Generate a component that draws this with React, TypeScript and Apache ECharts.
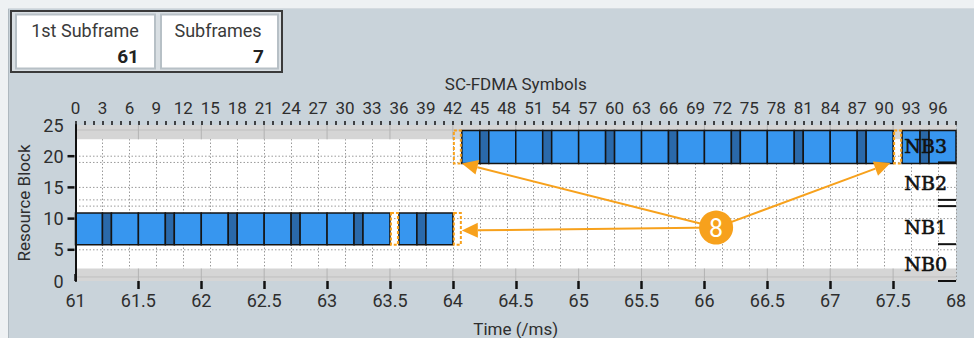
import React, { useEffect, useRef } from "react";
import * as echarts from "echarts";

// ---- data ----
const TIME_MIN = 61;
const TIME_MAX = 68;
const TIME_TICKS = [61.5, 62, 62.5, 63, 63.5, 64, 64.5, 65, 65.5, 66, 66.5, 67, 67.5];
const SYMBOL_MIN = 0;
const SYMBOL_MAX = 98;
const RB_MIN = 0;
const RB_MAX = 25;
const RB_TICKS = [5, 10, 15, 20];
const RB_GRID_LINES = [5, 10, 12, 13, 15, 19, 20];
const BANDS = [
  [0, 2],
  [22.7, 25],
];
const BAND_LINES = [0.65, 24.2];
const NB_NAMES = ["NB0", "NB1", "NB2", "NB3"];
const NB_LABEL_RB = [2.75, 8.6, 15.75, 21.7];
const NB_BOUNDARIES = [0, 5.9, 12, 13, 19];
const SLOT_BOUNDARIES = [7, 14, 21, 28, 35, 42, 49, 56, 63, 70, 77, 84, 91];
const DMRS_SYMBOLS = [3, 10, 17, 24, 31, 38, 45, 52, 59, 66, 73, 80, 87, 94];
const NB1_RB = [5.8, 10.9];
const NB1_SPANS = [
  [0, 35],
  [36, 42],
];
const NB1_SKIPPED = [
  [35, 36],
  [42, 43],
];
const NB3_RB = [18.85, 24.1];
const NB3_SPANS = [
  [43, 91],
  [92, 98],
];
const NB3_SKIPPED = [
  [42, 43],
  [91, 92],
];
const CALLOUT = [71.3, 8.56];
const CALLOUT_TEXT = "8";
const ARROW_TIPS = [
  [43, 8.1],
  [43, 18.85],
  [90.7, 18.9],
];
const INFO_TITLES = ["1st Subframe", "Subframes"];
const INFO_VALUES = ["61", "7"];

// ---- styles ----
const BG = "#c9d3da";
const LIGHT_BLUE = "#3796ef";
const DARK_BLUE = "#2a69aa";
const ORANGE = "#f7a11c";
const FONT = "Roboto";
const TEXT = "#2e2e2e";

function buildSegments(spans: number[][], rb: number[]) {
  const out: number[][] = [];
  spans.forEach(([s, e]) => {
    const cuts = new Set<number>([s, e]);
    SLOT_BOUNDARIES.forEach((b) => {
      if (b > s && b < e) cuts.add(b);
    });
    DMRS_SYMBOLS.forEach((d) => {
      if (d >= s && d < e) {
        cuts.add(d);
        cuts.add(Math.min(d + 1, e));
      }
    });
    const sorted = Array.from(cuts).sort((a, b) => a - b);
    for (let i = 0; i < sorted.length - 1; i++) {
      const a = sorted[i];
      const b = sorted[i + 1];
      out.push([a, b, rb[0], rb[1], DMRS_SYMBOLS.includes(a) ? 1 : 0]);
    }
  });
  return out;
}

export default function App() {
  const ref = useRef<HTMLDivElement>(null);
  useEffect(() => {
    document.body.style.margin = "0";
    if (!ref.current) return;
    const chart = echarts.init(ref.current, undefined, { renderer: "svg" });

    const segments = [...buildSegments(NB1_SPANS, NB1_RB), ...buildSegments(NB3_SPANS, NB3_RB)];
    const skipped = [
      ...NB1_SKIPPED.map((g) => [g[0], g[1], NB1_RB[0], NB1_RB[1]]),
      ...NB3_SKIPPED.map((g) => [g[0], g[1], NB3_RB[0], NB3_RB[1]]),
    ];
    const arrows = ARROW_TIPS.map((t) => [CALLOUT[0], CALLOUT[1], t[0], t[1]]);

    const labelStyle = { fontFamily: FONT, fontSize: 18, color: TEXT };

    const option: any = {
      animation: false,
      backgroundColor: BG,
      textStyle: { fontFamily: FONT },
      graphic: [
        { type: "rect", shape: { x: 0, y: 0, width: 974, height: 8 }, style: { fill: "#eef1f3" } },
        { type: "rect", shape: { x: 0, y: 0, width: 8, height: 338 }, style: { fill: "#eef1f3" } },
        { type: "line", shape: { x1: 8.5, y1: 8, x2: 8.5, y2: 338 }, style: { stroke: "#aeb8bf", lineWidth: 1 } },
        { type: "line", shape: { x1: 8, y1: 8.5, x2: 974, y2: 8.5 }, style: { stroke: "#d5dbe0", lineWidth: 1 } },
        { type: "rect", shape: { x: 11, y: 11, width: 271, height: 61 }, style: { fill: "#d9dfe3", stroke: "#3a3a3a", lineWidth: 2 } },
        { type: "rect", shape: { x: 16, y: 14.5, width: 139, height: 54 }, style: { fill: "#fff", stroke: "#b7c0c6", lineWidth: 2 } },
        { type: "rect", shape: { x: 161, y: 14.5, width: 117, height: 54 }, style: { fill: "#fff", stroke: "#b7c0c6", lineWidth: 2 } },
        { type: "text", x: 85, y: 30, style: { text: INFO_TITLES[0], fontFamily: FONT, fontSize: 18, fill: "#3a3a3a", align: "center", verticalAlign: "middle" } },
        { type: "text", x: 139, y: 56, style: { text: INFO_VALUES[0], fontFamily: FONT, fontSize: 19, fontWeight: "bold", fill: "#222", align: "right", verticalAlign: "middle" } },
        { type: "text", x: 218, y: 30, style: { text: INFO_TITLES[1], fontFamily: FONT, fontSize: 18, fill: "#3a3a3a", align: "center", verticalAlign: "middle" } },
        { type: "text", x: 264, y: 56, style: { text: INFO_VALUES[1], fontFamily: FONT, fontSize: 19, fontWeight: "bold", fill: "#222", align: "right", verticalAlign: "middle" } },
      ],
      grid: {
        left: 75.5,
        right: 18,
        top: 125,
        bottom: 48,
        show: true,
        backgroundColor: "#ffffff",
        borderWidth: 0,
      },
      xAxis: [
        {
          type: "value",
          position: "bottom",
          min: TIME_MIN,
          max: TIME_MAX,
          interval: 0.5,
          name: "Time (/ms)",
          nameLocation: "middle",
          nameGap: 39,
          nameTextStyle: { fontFamily: FONT, fontSize: 17, color: TEXT },
          axisLine: { show: false },
          axisTick: { show: true, customValues: TIME_TICKS, length: 8, lineStyle: { color: "#111", width: 2.5 } },
          axisLabel: { ...labelStyle, margin: 10 },
          splitLine: { show: false },
        },
        {
          type: "value",
          position: "top",
          min: SYMBOL_MIN,
          max: SYMBOL_MAX,
          interval: 3,
          name: "SC-FDMA Symbols",
          nameLocation: "middle",
          nameGap: 33,
          nameTextStyle: { fontFamily: FONT, fontSize: 17, color: TEXT },
          axisLine: { show: false },
          axisTick: { show: true, length: 7, lineStyle: { color: "#111", width: 2.5 } },
          axisLabel: { ...labelStyle, fontSize: 17, margin: 9, showMaxLabel: false },
          splitLine: { show: true, lineStyle: { color: "#9a9a9a", type: [1.5, 2], width: 1 } },
        },
        {
          type: "value",
          position: "top",
          min: SYMBOL_MIN,
          max: SYMBOL_MAX,
          interval: 1,
          axisLine: { show: false },
          axisTick: { show: true, length: 4, lineStyle: { color: "#111", width: 1.5 } },
          axisLabel: { show: false },
          splitLine: { show: false },
        },
      ],
      yAxis: [
        {
          type: "value",
          position: "left",
          min: RB_MIN,
          max: RB_MAX,
          interval: 5,
          name: "Resource Block",
          nameLocation: "middle",
          nameGap: 36,
          nameRotate: 90,
          nameTextStyle: { fontFamily: FONT, fontSize: 17, color: TEXT },
          axisLine: { show: true, lineStyle: { color: "#222", type: [1, 1], width: 1 } },
          axisTick: { show: false },
          axisLabel: { ...labelStyle, margin: 12 },
          splitLine: { show: false },
        },
        {
          type: "value",
          position: "right",
          min: RB_MIN,
          max: RB_MAX,
          z: 10,
          axisLine: { show: true, lineStyle: { color: "#111", width: 2 } },
          axisTick: { show: false },
          axisLabel: {
            inside: true,
            customValues: NB_LABEL_RB,
            formatter: (v: number) => {
              const i = NB_LABEL_RB.indexOf(v);
              return i >= 0 ? NB_NAMES[i] : "";
            },
            fontFamily: "DejaVu Serif",
            fontSize: 19,
            color: "#111",
            textBorderColor: "#111",
            textBorderWidth: 0.6,
            margin: 9,
          },
          splitLine: { show: false },
        },
      ],
      series: [
        {
          type: "custom",
          name: "grid",
          xAxisIndex: 1,
          yAxisIndex: 0,
          z: 1,
          silent: true,
          data: RB_GRID_LINES.map((v) => [0, v]),
          renderItem: (params: any, api: any) => {
            const y = api.coord([0, api.value(1)])[1];
            const cs = params.coordSys;
            return {
              type: "line",
              shape: { x1: cs.x, y1: y, x2: cs.x + cs.width, y2: y },
              style: { stroke: "#9a9a9a", lineWidth: 1, lineDash: [1.5, 2] },
            };
          },
        },
        {
          type: "custom",
          name: "rbTicks",
          xAxisIndex: 1,
          yAxisIndex: 0,
          z: 1,
          silent: true,
          data: RB_TICKS.map((v) => [0, v]),
          renderItem: (params: any, api: any) => {
            const y = api.coord([0, api.value(1)])[1];
            const cs = params.coordSys;
            return {
              type: "line",
              shape: { x1: cs.x - 8, y1: y, x2: cs.x - 1, y2: y },
              style: { stroke: "#111", lineWidth: 2.5 },
            };
          },
        },
        {
          type: "custom",
          name: "bands",
          xAxisIndex: 0,
          yAxisIndex: 0,
          z: 2,
          silent: true,
          data: BANDS.map((b, i) => [b[0], b[1], BAND_LINES[i]]),
          renderItem: (params: any, api: any) => {
            const y0 = api.value(0);
            const y1 = api.value(1);
            const tl = api.coord([TIME_MIN, y1]);
            const br = api.coord([TIME_MAX, y0]);
            const ly = api.coord([TIME_MIN, api.value(2)])[1];
            const children: any[] = [
              { type: "rect", shape: { x: tl[0], y: tl[1], width: br[0] - tl[0], height: br[1] - tl[1] }, style: { fill: "#d5d5d5" } },
              { type: "line", shape: { x1: tl[0], y1: ly, x2: br[0], y2: ly }, style: { stroke: "#bfbfbf", lineWidth: 1 } },
            ];
            TIME_TICKS.forEach((t) => {
              const x = api.coord([t, y0])[0];
              children.push({ type: "line", shape: { x1: x, y1: tl[1], x2: x, y2: br[1] }, style: { stroke: "#b3b3b3", lineWidth: 1 } });
            });
            return { type: "group", children };
          },
        },
        {
          type: "custom",
          name: "allocations",
          xAxisIndex: 1,
          yAxisIndex: 0,
          z: 3,
          data: segments,
          renderItem: (params: any, api: any) => {
            const p0 = api.coord([api.value(0), api.value(3)]);
            const p1 = api.coord([api.value(1), api.value(2)]);
            return {
              type: "rect",
              shape: { x: p0[0], y: p0[1], width: p1[0] - p0[0], height: p1[1] - p0[1] },
              style: { fill: api.value(4) ? DARK_BLUE : LIGHT_BLUE, stroke: "#141414", lineWidth: 1.5 },
            };
          },
        },
        {
          type: "custom",
          name: "skipped",
          xAxisIndex: 1,
          yAxisIndex: 0,
          z: 4,
          data: skipped,
          renderItem: (params: any, api: any) => {
            const p0 = api.coord([api.value(0), api.value(3)]);
            const p1 = api.coord([api.value(1), api.value(2)]);
            return {
              type: "rect",
              shape: { x: p0[0] + 1, y: p0[1], width: p1[0] - p0[0] - 2, height: p1[1] - p0[1] },
              style: { fill: "transparent", stroke: ORANGE, lineWidth: 2, lineDash: [3, 2] },
            };
          },
        },
        {
          type: "custom",
          name: "nbBoundaries",
          xAxisIndex: 1,
          yAxisIndex: 0,
          z: 7,
          silent: true,
          data: NB_BOUNDARIES.map((v) => [0, v]),
          renderItem: (params: any, api: any) => {
            const y = api.coord([0, api.value(1)])[1];
            const cs = params.coordSys;
            return {
              type: "line",
              shape: { x1: cs.x + cs.width - 18, y1: y, x2: cs.x + cs.width, y2: y },
              style: { stroke: "#111", lineWidth: 2 },
            };
          },
        },
        {
          type: "custom",
          name: "arrows",
          xAxisIndex: 1,
          yAxisIndex: 0,
          z: 5,
          data: arrows,
          renderItem: (params: any, api: any) => {
            const a = api.coord([api.value(0), api.value(1)]);
            const b = api.coord([api.value(2), api.value(3)]);
            const dx = b[0] - a[0];
            const dy = b[1] - a[1];
            const len = Math.hypot(dx, dy);
            const ux = dx / len;
            const uy = dy / len;
            const L = 16;
            const W = 7.5;
            const bx = b[0] - ux * L;
            const by = b[1] - uy * L;
            return {
              type: "group",
              children: [
                { type: "line", shape: { x1: a[0], y1: a[1], x2: bx, y2: by }, style: { stroke: ORANGE, lineWidth: 2 } },
                {
                  type: "polygon",
                  shape: { points: [[b[0], b[1]], [bx - uy * W, by + ux * W], [bx + uy * W, by - ux * W]] },
                  style: { fill: ORANGE },
                },
              ],
            };
          },
        },
        {
          type: "custom",
          name: "callout",
          xAxisIndex: 1,
          yAxisIndex: 0,
          z: 6,
          data: [CALLOUT],
          renderItem: (params: any, api: any) => {
            const c = api.coord([api.value(0), api.value(1)]);
            return {
              type: "group",
              children: [
                { type: "circle", shape: { cx: c[0], cy: c[1], r: 17 }, style: { fill: ORANGE } },
                {
                  type: "text",
                  x: c[0],
                  y: c[1] + 1,
                  style: { text: CALLOUT_TEXT, fill: "#fff", fontFamily: FONT, fontSize: 25, align: "center", verticalAlign: "middle" },
                },
              ],
            };
          },
        },
      ],
    };

    chart.setOption(option);
    return () => chart.dispose();
  }, []);
  return <div ref={ref} style={{ width: 974, height: 338 }} />;
}
